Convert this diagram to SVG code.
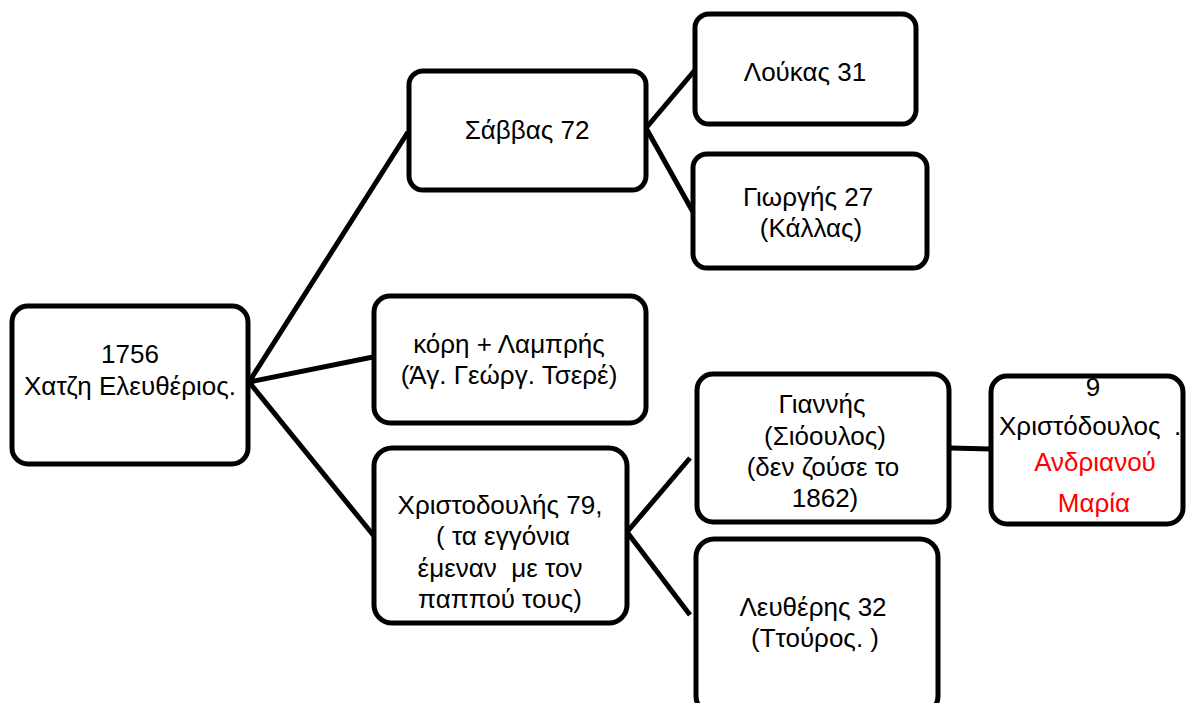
<svg xmlns="http://www.w3.org/2000/svg" width="1186" height="703" viewBox="0 0 1186 703">
<style>
.box{fill:#fff;stroke:#000;stroke-width:5}
.ln{stroke:#000;stroke-width:5;fill:none}
text{font-family:"Liberation Sans","Noto Sans",sans-serif;font-size:26px;fill:#000;text-anchor:middle}
.red{fill:#ff0000}
</style>
<rect width="1186" height="703" fill="#fff"/>
<g id="connectors">
<line class="ln" x1="249" y1="382" x2="408" y2="132"/>
<line class="ln" x1="249" y1="382" x2="373" y2="357"/>
<line class="ln" x1="249" y1="382" x2="374" y2="536"/>
<line class="ln" x1="646" y1="128" x2="695" y2="70"/>
<line class="ln" x1="646" y1="128" x2="693" y2="212"/>
<line class="ln" x1="627" y1="532" x2="690" y2="458"/>
<line class="ln" x1="627" y1="532" x2="690" y2="615"/>
<line class="ln" x1="950" y1="448" x2="991" y2="449"/>
</g>
<g id="root">
<rect class="box" x="12" y="306" width="236" height="158" rx="16"/>
<text x="130" y="363">1756</text>
<text x="130" y="395">Χατζη Ελευθέριος.</text>
</g>
<g id="savvas">
<rect class="box" x="409" y="71" width="237" height="119" rx="14"/>
<text x="527" y="139">Σάββας 72</text>
</g>
<g id="loukas">
<rect class="box" x="695" y="14" width="221" height="110" rx="14"/>
<text x="805" y="81">Λούκας 31</text>
</g>
<g id="giorgis">
<rect class="box" x="693" y="154" width="234" height="114" rx="14"/>
<text x="808" y="206">Γιωργής 27</text>
<text x="811" y="237">(Κάλλας)</text>
</g>
<g id="kori">
<rect class="box" x="374" y="296" width="272" height="127" rx="16"/>
<text x="509" y="353">κόρη + Λαμπρής</text>
<text x="509" y="384">(Άγ. Γεώργ. Τσερέ)</text>
</g>
<g id="christodoulis">
<rect class="box" x="374" y="448" width="253" height="175" rx="18"/>
<text x="500" y="514">Χριστοδουλής 79,</text>
<text x="503" y="545">( τα εγγόνια</text>
<text x="500" y="577" xml:space="preserve">έμεναν  με τον</text>
<text x="500" y="608">παππού τους)</text>
</g>
<g id="giannis">
<rect class="box" x="697" y="374" width="252" height="148" rx="16"/>
<text x="822" y="413">Γιαννής</text>
<text x="825" y="445">(Σιόουλος)</text>
<text x="823" y="476">(δεν ζούσε το</text>
<text x="825" y="507">1862)</text>
</g>
<g id="christodoulos">
<rect class="box" x="991" y="376" width="192" height="148" rx="16"/>
<text x="1093" y="396">9</text>
<text x="999" y="435" style="text-anchor:start">Χριστόδουλος<tspan x="1174">.</tspan></text>
<text class="red" x="1095" y="471">Ανδριανού</text>
<text class="red" x="1094" y="512">Μαρία</text>
</g>
<g id="leftheris">
<rect class="box" x="696" y="539" width="242" height="175" rx="18"/>
<text x="813" y="616">Λευθέρης 32</text>
<text x="815" y="647">(Ττούρος. )</text>
</g>
</svg>
